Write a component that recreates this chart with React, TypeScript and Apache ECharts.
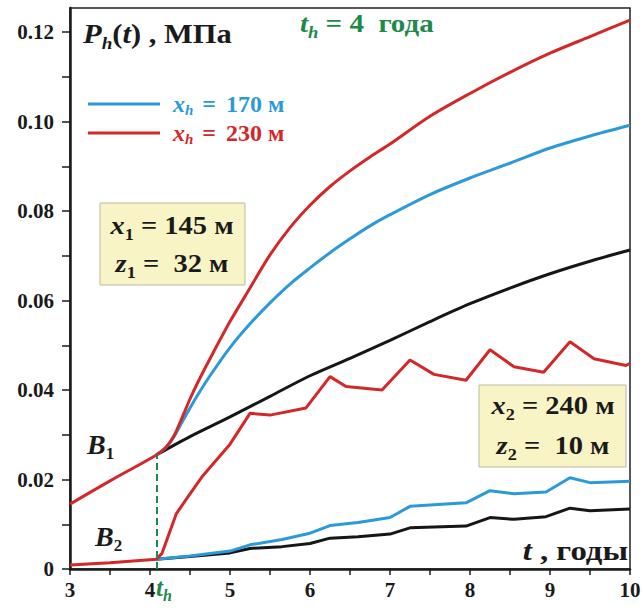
import React, { useEffect, useRef } from "react";
import * as echarts from "echarts";

// ---------- data ----------
const xTicks = [3, 3.5, 4, 4.5, 5, 5.5, 6, 6.5, 7, 7.5, 8, 8.5, 9, 9.5, 10];
const xLabels = [3, 4, 5, 6, 7, 8, 9, 10];
const yTicks = [0, 0.01, 0.02, 0.03, 0.04, 0.05, 0.06, 0.07, 0.08, 0.09, 0.1, 0.11, 0.12];
const yLabels = [0, 0.02, 0.04, 0.06, 0.08, 0.1, 0.12];

const tHeat = 4.08;
const pHeatB1 = 0.0255;

// B1, x_h = 230 m (red), incl. part before t_h
const tB1Red = [3.0, 3.5, 4.08, 4.2, 4.3, 4.4, 4.5, 4.6, 4.75, 5.0, 5.25, 5.5, 5.75, 6.0, 6.25, 6.5, 6.75, 7.0, 7.5, 8.0, 8.5, 9.0, 9.5, 10.0];
const pB1Red = [0.0145, 0.0197, 0.0255, 0.0272, 0.0298, 0.0338, 0.038, 0.0418, 0.047, 0.0553, 0.0628, 0.0702, 0.0763, 0.0813, 0.0855, 0.089, 0.0921, 0.095, 0.1012, 0.1063, 0.111, 0.1153, 0.119, 0.1227];

// B1, x_h = 170 m (blue)
const tB1Blue = [4.08, 4.2, 4.3, 4.4, 4.5, 4.6, 4.75, 5.0, 5.25, 5.5, 5.75, 6.0, 6.25, 6.5, 6.75, 7.0, 7.5, 8.0, 8.5, 9.0, 9.5, 10.0];
const pB1Blue = [0.0255, 0.0272, 0.0296, 0.0328, 0.036, 0.039, 0.0432, 0.0495, 0.0548, 0.0595, 0.0637, 0.0673, 0.0707, 0.0738, 0.0767, 0.0792, 0.0837, 0.0874, 0.0907, 0.0941, 0.0968, 0.0992];

// B1, no heating (black)
const tB1Black = [4.08, 4.5, 5.0, 5.5, 6.0, 6.5, 7.0, 7.5, 8.0, 8.5, 9.0, 9.5, 10.0];
const pB1Black = [0.0255, 0.0296, 0.034, 0.0386, 0.0432, 0.0471, 0.0511, 0.0553, 0.0593, 0.0628, 0.066, 0.0688, 0.0713];

// B2, x_h = 230 m (red), incl. part before t_h
const tB2Red = [3.0, 3.5, 4.08, 4.15, 4.33, 4.5, 4.65, 5.0, 5.25, 5.5, 5.95, 6.25, 6.45, 6.9, 7.25, 7.55, 7.95, 8.25, 8.55, 8.92, 9.25, 9.55, 9.95, 10.0];
const pB2Red = [0.0009, 0.0014, 0.0022, 0.0035, 0.0124, 0.0168, 0.0206, 0.0279, 0.0348, 0.0344, 0.036, 0.043, 0.0408, 0.040, 0.0467, 0.0435, 0.0422, 0.049, 0.0452, 0.044, 0.0508, 0.047, 0.0455, 0.046];

// B2, x_h = 170 m (blue)
const tB2Blue = [4.08, 4.5, 5.0, 5.25, 5.65, 6.0, 6.25, 6.6, 7.0, 7.25, 7.95, 8.25, 8.55, 8.95, 9.25, 9.5, 10.0];
const pB2Blue = [0.0022, 0.0029, 0.004, 0.0054, 0.0066, 0.008, 0.0097, 0.0104, 0.0115, 0.014, 0.0148, 0.0175, 0.0168, 0.0172, 0.0204, 0.0193, 0.0196];

// B2, no heating (black)
const tB2Black = [4.08, 4.5, 5.0, 5.25, 5.65, 6.0, 6.25, 6.6, 7.0, 7.25, 7.95, 8.25, 8.55, 8.95, 9.25, 9.5, 10.0];
const pB2Black = [0.0022, 0.0028, 0.0036, 0.0046, 0.005, 0.0057, 0.0069, 0.0072, 0.0078, 0.0092, 0.0096, 0.0115, 0.0111, 0.0117, 0.0136, 0.013, 0.0134];

// ---------- styles ----------
const FONT = "'Liberation Serif', 'Times New Roman', serif";
const RED = "#d3282a";
const BLUE = "#2c9ad9";
const BLACK = "#161616";
const GREEN = "#1d8a4b";
const INK = "#1a1a1a";

const zip = (t: number[], p: number[]) => t.map((v, i) => [v, p[i]]);

// zrender rich styles for graphic texts
const zr = (size: number, color: string, lh: number) => ({
  it: { fontFamily: FONT, fontStyle: "italic", fontWeight: "bold", fontSize: size, fill: color, lineHeight: lh, verticalAlign: "middle" },
  b: { fontFamily: FONT, fontWeight: "bold", fontSize: size, fill: color, lineHeight: lh, verticalAlign: "middle" },
  sub: { fontFamily: FONT, fontStyle: "italic", fontWeight: "bold", fontSize: Math.round(size * 0.62), fill: color, lineHeight: Math.round(size * 0.62), verticalAlign: "bottom" },
  sn: { fontFamily: FONT, fontWeight: "bold", fontSize: Math.round(size * 0.62), fill: color, lineHeight: Math.round(size * 0.62), verticalAlign: "bottom" },
});

const txt = (x: number, y: number, text: string, size: number, color: string, align = "left", sx = 1) => ({
  type: "text",
  x,
  y,
  scaleX: sx,
  z: 100,
  style: {
    text,
    align,
    verticalAlign: "middle",
    rich: zr(size, color, Math.round(size * 1.3)),
  },
});

// echarts label rich
const legendRich = (color: string) => ({
  it: { fontFamily: FONT, fontStyle: "italic", fontWeight: "bold", fontSize: 24, color, lineHeight: 26, verticalAlign: "middle", padding: [0, 0, 0, 8] },
  sub: { fontFamily: FONT, fontStyle: "italic", fontWeight: "bold", fontSize: 15, color, lineHeight: 15, verticalAlign: "bottom" },
  eq: { fontFamily: FONT, fontWeight: "bold", fontSize: 24, color, lineHeight: 26, verticalAlign: "middle", padding: [0, 10, 0, 9] },
  b: { fontFamily: FONT, fontWeight: "bold", fontSize: 24, color, lineHeight: 26, verticalAlign: "middle" },
});

export default function App() {
  const ref = useRef<HTMLDivElement>(null);

  useEffect(() => {
    if (!ref.current) return;
    const chart = echarts.init(ref.current, null, { renderer: "svg" });

    const lineSeries = (name: string, t: number[], p: number[], color: string, extra: any = {}) => ({
      type: "line",
      name,
      data: zip(t, p),
      showSymbol: false,
      symbol: "none",
      smooth: false,
      lineStyle: { color, width: 3 },
      itemStyle: { color },
      ...extra,
    });

    const option: any = {
      animation: false,
      backgroundColor: "#ffffff",
      grid: {
        left: 70,
        right: 14,
        top: 8,
        bottom: 41,
        show: true,
        borderColor: "#222",
        borderWidth: 1.5,
        backgroundColor: "transparent",
      },
      xAxis: {
        type: "value",
        min: 3,
        max: 10,
        axisLine: { show: true, onZero: false, lineStyle: { color: INK, width: 2.5 } },
        axisTick: { show: true, inside: false, length: 6, customValues: xTicks, lineStyle: { color: INK, width: 1.5 } },
        axisLabel: {
          customValues: xLabels,
          margin: 10,
          color: INK,
          fontFamily: FONT,
          fontWeight: "bold",
          fontSize: 21,
          formatter: (v: number) => String(v),
        },
        splitLine: { show: false },
      },
      yAxis: {
        type: "value",
        min: 0,
        max: 0.1254,
        axisLine: { show: true, onZero: false, lineStyle: { color: INK, width: 2.5 } },
        axisTick: { show: true, inside: false, length: 8, customValues: yTicks, lineStyle: { color: INK, width: 1.5 } },
        axisLabel: {
          customValues: yLabels,
          margin: 16,
          color: INK,
          fontFamily: FONT,
          fontWeight: "bold",
          fontSize: 21,
          formatter: (v: number) => (v === 0 ? "0" : v.toFixed(2)),
        },
        splitLine: { show: false },
      },
      legend: {
        show: true,
        orient: "vertical",
        left: 83,
        top: 87,
        itemWidth: 72,
        itemHeight: 3,
        itemGap: 4,
        icon: "rect",
        selectedMode: false,
        data: [
          { name: "h170", textStyle: { color: BLUE, rich: legendRich(BLUE) } },
          { name: "h230", textStyle: { color: RED, rich: legendRich(RED) } },
        ],
        formatter: (name: string) =>
          name === "h170" ? "{it|x}{sub|h}{eq|=}{b|170 м}" : "{it|x}{sub|h}{eq|=}{b|230 м}",
      },
      series: [
        lineSeries("base1", tB1Black, pB1Black, BLACK, { smooth: 0.3 }),
        lineSeries("h170", tB1Blue, pB1Blue, BLUE, { smooth: 0.3 }),
        lineSeries("h230", tB1Red, pB1Red, RED, { smooth: 0.3 }),
        lineSeries("base2", tB2Black, pB2Black, BLACK),
        lineSeries("h170", tB2Blue, pB2Blue, BLUE),
        lineSeries("h230", tB2Red, pB2Red, RED, {
          markLine: {
            silent: true,
            symbol: ["none", "none"],
            label: { show: false },
            lineStyle: { color: GREEN, width: 2, type: [7, 4] },
            data: [[{ coord: [tHeat, 0] }, { coord: [tHeat, pHeatB1] }]],
          },
        }),
      ],
      graphic: [
        // parameter boxes
        {
          type: "rect",
          z: 90,
          shape: { x: 100, y: 203, width: 145, height: 82 },
          style: { fill: "#f8f4c6", stroke: "#b9b9a6", lineWidth: 1 },
        },
        txt(172, 226, "{it|x}{sn|1}{b| = 145 м}", 25, INK, "center", 1.14),
        txt(172, 264, "{it|z}{sn|1}{b| =  32 м}", 25, INK, "center", 1.14),
        {
          type: "rect",
          z: 90,
          shape: { x: 479, y: 385, width: 147, height: 82 },
          style: { fill: "#f8f4c6", stroke: "#b9b9a6", lineWidth: 1 },
        },
        txt(553, 406, "{it|x}{sn|2}{b| = 240 м}", 25, INK, "center", 1.14),
        txt(553, 446, "{it|z}{sn|2}{b| =  10 м}", 25, INK, "center", 1.14),
        // title & annotations
        txt(83, 34, "{it|P}{sub|h}{b|(}{it|t}{b|) , МПа}", 27, INK, "left", 1.13),
        txt(300, 24, "{it|t}{sub|h}{b| = 4  года}", 25, GREEN, "left", 1.16),
        txt(87, 444, "{it|B}{sn|1}", 28, INK),
        txt(95, 536, "{it|B}{sn|2}", 28, INK),
        txt(156, 587, "{it|t}{sub|h}", 25, GREEN),
        txt(628, 551, "{it|t}{b| , годы}", 28, INK, "right", 1.17),
      ],
    };

    chart.setOption(option);
    return () => chart.dispose();
  }, []);

  return <div ref={ref} style={{ position: "absolute", left: 0, top: 0, width: 644, height: 610 }} />;
}
